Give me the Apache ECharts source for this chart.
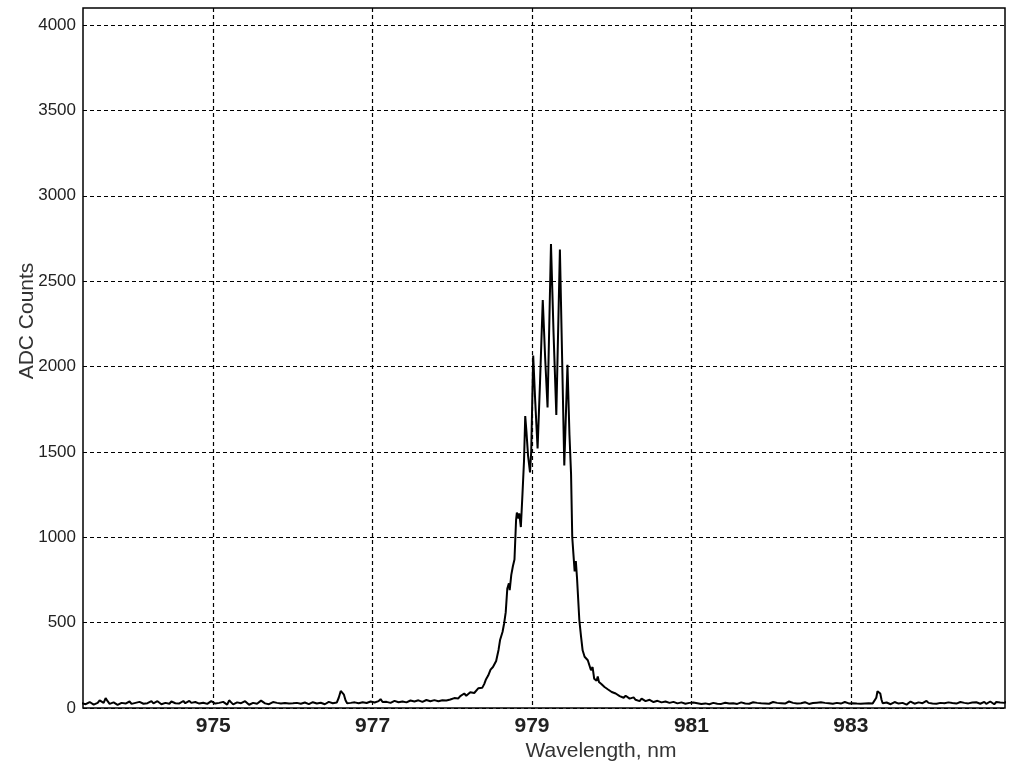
<!DOCTYPE html>
<html>
<head>
<meta charset="utf-8">
<script src="https://cdn.jsdelivr.net/npm/echarts@6/dist/echarts.min.js"></script>
<style>
html,body{margin:0;padding:0;background:#fff;}
#chart{width:1024px;height:761px;}
</style>
</head>
<body>
<div id="chart"></div>
<script>
// Spectrum samples as [wavelength nm, ADC counts], split by region
const leftBaseline = [
[973.350,28],[973.375,34],[973.400,22],[973.425,30],[973.450,35],[973.475,26],[973.500,20],[973.525,31],
[973.550,30],[973.575,45],[973.600,42],[973.625,30],[973.650,58],[973.675,40],[973.700,24],[973.725,29],
[973.750,33],[973.775,25],[973.800,18],[973.825,27],[973.850,30],[973.875,22],[973.900,26],[973.925,35],
[973.950,38],[973.975,24],[974.000,21],[974.025,30],[974.050,29],[974.075,36],[974.100,34],[974.125,25],
[974.150,19],[974.175,28],[974.200,31],[974.225,40],[974.250,27],[974.275,22],[974.300,40],[974.325,30],
[974.350,22],[974.375,33],[974.400,30],[974.425,24],[974.450,25],[974.475,38],[974.500,36],[974.525,28],
[974.550,18],[974.575,27],[974.600,32],[974.625,41],[974.650,28],[974.675,22],[974.700,42],[974.725,30],
[974.750,24],[974.775,35],[974.800,30],[974.825,26],[974.850,20],[974.875,31],[974.900,35],[974.925,24],
[974.950,27],[974.975,40],[975.000,38],[975.025,26],[975.050,22],[975.075,30],[975.100,31],[975.125,36],
[975.150,26],[975.175,20],[975.200,45],[975.225,33],[975.250,21],[975.275,28],[975.300,33],[975.325,42],
[975.350,28],[975.375,24],[975.400,40],[975.425,30],[975.450,19],[975.475,26],[975.500,30],[975.525,38],
[975.550,25],[975.575,22],[975.600,43],[975.625,35],[975.650,27],[975.675,30],[975.700,22],[975.725,28],
[975.750,35],[975.775,24],[975.800,30],[975.825,26],[975.850,26],[975.875,31],[975.900,29],[975.925,25],
[975.950,27],[975.975,30],[976.000,28],[976.025,26],[976.050,30],[976.075,24],[976.100,25],[976.125,28],
[976.150,32],[976.175,27],[976.200,23],[976.225,29],[976.250,34],[976.275,26],[976.300,26],[976.325,30],
[976.350,31],[976.375,27],[976.400,22],[976.425,28],[976.450,36],[976.475,25],[976.500,28],[976.525,30]
];
const smallPeakA = [
[976.550,32],[976.575,60],[976.600,100],[976.620,110],[976.640,78],[976.660,45],[976.680,28]
];
const midLeft = [
[976.700,36],[976.725,30],[976.750,24],[976.775,33],[976.800,42],[976.825,28],[976.850,28],[976.875,34],
[976.900,35],[976.925,29],[976.950,26],[976.975,38],[977.000,44],[977.025,32],[977.050,30],[977.075,40],
[977.100,52],[977.125,35],[977.150,28],[977.175,36],[977.200,38],[977.225,30],[977.250,33],[977.275,42],
[977.300,45],[977.325,34],[977.350,30],[977.375,38],[977.400,40],[977.425,33],[977.450,35],[977.475,44],
[977.500,48],[977.525,38],[977.550,36],[977.575,45],[977.600,42],[977.625,36],[977.650,38],[977.675,47],
[977.700,50],[977.725,40],[977.750,37],[977.775,46],[977.800,44],[977.825,40],[977.850,46],[977.875,45],
[977.900,48],[977.925,44],[977.950,52],[977.975,50]
];
const mainPeak = [
[978.000,55],[978.025,58],[978.050,62],[978.075,56],[978.100,70],[978.125,66],[978.150,85],[978.175,72],
[978.200,78],[978.225,92],[978.250,100],[978.275,88],[978.300,95],[978.325,115],[978.350,125],[978.375,118],
[978.400,140],[978.420,165],[978.450,190],[978.480,225],[978.510,240],[978.550,275],[978.580,340],[978.600,400],
[978.630,445],[978.650,495],[978.670,560],[978.690,700],[978.710,730],[978.720,690],[978.740,780],[978.760,830],
[978.780,870],[978.800,1100],[978.810,1145],[978.830,1110],[978.840,1140],[978.860,1060],[978.880,1250],[978.900,1450],
[978.915,1710],[978.930,1620],[978.950,1480],[978.975,1380],[978.990,1500],[979.015,2065],[979.040,1800],[979.070,1520],
[979.100,1900],[979.135,2390],[979.165,2050],[979.195,1760],[979.238,2718],[979.270,2200],[979.305,1717],[979.350,2685],
[979.380,2000],[979.405,1420],[979.445,2010],[979.470,1600],[979.490,1370],[979.505,1000],[979.520,900],[979.535,800],
[979.550,860],[979.565,760],[979.594,514],[979.615,420],[979.635,338],[979.660,300],[979.700,280],[979.740,221],
[979.760,240],[979.780,172],[979.810,160],[979.825,185],[979.840,152],[979.870,140],[979.890,150],[979.910,123],
[979.930,130],[979.950,110],[979.975,118]
];
const rightBaseline = [
[980.000,94],[980.025,100],[980.050,85],[980.075,90],[980.100,70],[980.125,78],[980.150,60],[980.175,72],
[980.200,65],[980.225,55],[980.250,50],[980.275,62],[980.300,48],[980.325,44],[980.350,40],[980.375,55],
[980.400,52],[980.425,40],[980.450,36],[980.475,48],[980.500,44],[980.525,35],[980.550,32],[980.575,42],
[980.600,40],[980.625,33],[980.650,30],[980.675,38],[980.700,45],[980.725,30],[980.750,28],[980.775,36],
[980.800,38],[980.825,27],[980.850,26],[980.875,33],[980.900,34],[980.925,25],[980.950,22],[980.975,30],
[981.000,40],[981.025,32],[981.050,25],[981.075,28],[981.100,30],[981.125,24],[981.150,20],[981.175,27],
[981.200,28],[981.225,22],[981.250,24],[981.275,30],[981.300,32],[981.325,25],[981.350,18],[981.375,24],
[981.400,27],[981.425,31],[981.450,35],[981.475,26],[981.500,22],[981.525,28],[981.550,30],[981.575,24],
[981.600,25],[981.625,33],[981.650,38],[981.675,26],[981.700,20],[981.725,25],[981.750,29],[981.775,34],
[981.800,26],[981.825,30],[981.850,40],[981.875,28],[981.900,23],[981.925,27],[981.950,31],[981.975,25],
[982.000,27],[982.025,35],[982.050,42],[982.075,30],[982.100,24],[982.125,28],[982.150,35],[982.175,26],
[982.200,28],[982.225,38],[982.250,45],[982.275,30],[982.300,22],[982.325,27],[982.350,33],[982.375,28],
[982.400,26],[982.425,34],[982.450,30],[982.475,24],[982.500,21],[982.525,29],[982.550,36],[982.575,31],
[982.600,27],[982.625,33],[982.650,40],[982.675,30],[982.700,24],[982.725,28],[982.750,30],[982.775,25],
[982.800,22],[982.825,30],[982.850,34],[982.875,26],[982.900,28],[982.925,35],[982.950,38],[982.975,27],
[983.000,25],[983.025,28],[983.050,30],[983.075,26],[983.100,27],[983.125,25],[983.150,28],[983.175,27],
[983.200,26],[983.225,28],[983.250,29],[983.275,27],[983.300,28]
];
const smallPeakB = [
[983.320,60],[983.335,98],[983.350,100],[983.370,85],[983.385,50],[983.400,28]
];
const farRight = [
[983.425,30],[983.450,32],[983.475,26],[983.500,22],[983.525,29],[983.550,35],[983.575,27],[983.600,26],
[983.625,32],[983.650,30],[983.675,24],[983.700,20],[983.725,28],[983.750,38],[983.775,30],[983.800,25],
[983.825,28],[983.850,33],[983.875,26],[983.900,28],[983.925,36],[983.950,42],[983.975,30],[984.000,24],
[984.025,27],[984.050,30],[984.075,25],[984.100,22],[984.125,30],[984.150,36],[984.175,28],[984.200,27],
[984.225,33],[984.250,40],[984.275,29],[984.300,23],[984.325,26],[984.350,31],[984.375,35],[984.400,26],
[984.425,30],[984.450,35],[984.475,27],[984.500,20],[984.525,32],[984.550,42],[984.575,34],[984.600,28],
[984.625,25],[984.650,30],[984.675,36],[984.700,24],[984.725,30],[984.750,38],[984.775,28],[984.800,22],
[984.825,35],[984.850,45],[984.875,32],[984.900,28],[984.925,30],[984.950,35]
];
const xTicks = [975, 977, 979, 981, 983];
const yTicks = [0, 500, 1000, 1500, 2000, 2500, 3000, 3500, 4000];

const seriesData = [].concat(leftBaseline, smallPeakA, midLeft, mainPeak, rightBaseline, smallPeakB, farRight);
const FONT = '"Liberation Sans", Arial, sans-serif';

const chart = echarts.init(document.getElementById('chart'));
chart.setOption({
  animation: false,
  backgroundColor: '#fff',
  grid: {left: 83, right: 19, top: 8, bottom: 53, show: true, borderColor: '#000', borderWidth: 1.5,
         containLabel: false, outerBoundsMode: 'none'},
  xAxis: {
    type: 'value', min: 973.366, max: 984.935,
    axisLine: {show: false},
    axisTick: {show: false, customValues: xTicks},
    axisLabel: {customValues: xTicks, formatter: v => String(v), fontFamily: FONT, fontWeight: 'bold', fontSize: 21, color: '#222', margin: 8},
    splitLine: {show: true, lineStyle: {color: '#000', width: 1.2, type: [4, 3]}},
    name: 'Wavelength, nm', nameLocation: 'middle', nameGap: 33, nameMoveOverlap: false,
    nameTextStyle: {fontFamily: FONT, fontSize: 21, color: '#333', padding: [0, 0, 0, 114]}
  },
  yAxis: {
    type: 'value', min: 0, max: 4100,
    axisLine: {show: false},
    axisTick: {show: false, customValues: yTicks},
    axisLabel: {customValues: yTicks, formatter: v => String(v), fontFamily: FONT, fontSize: 17, color: '#222', margin: 7},
    splitLine: {show: true, lineStyle: {color: '#000', width: 1.2, type: [4, 3]}},
    name: 'ADC Counts', nameLocation: 'middle', nameRotate: 90, nameGap: 45, nameMoveOverlap: false,
    nameTextStyle: {fontFamily: FONT, fontSize: 21, color: '#333', padding: [0, 0, 0, 74]}
  },
  series: [{
    type: 'line', data: seriesData, showSymbol: false, symbol: 'none',
    lineStyle: {color: '#000', width: 2}, z: 5
  }]
});
</script>
</body>
</html>
